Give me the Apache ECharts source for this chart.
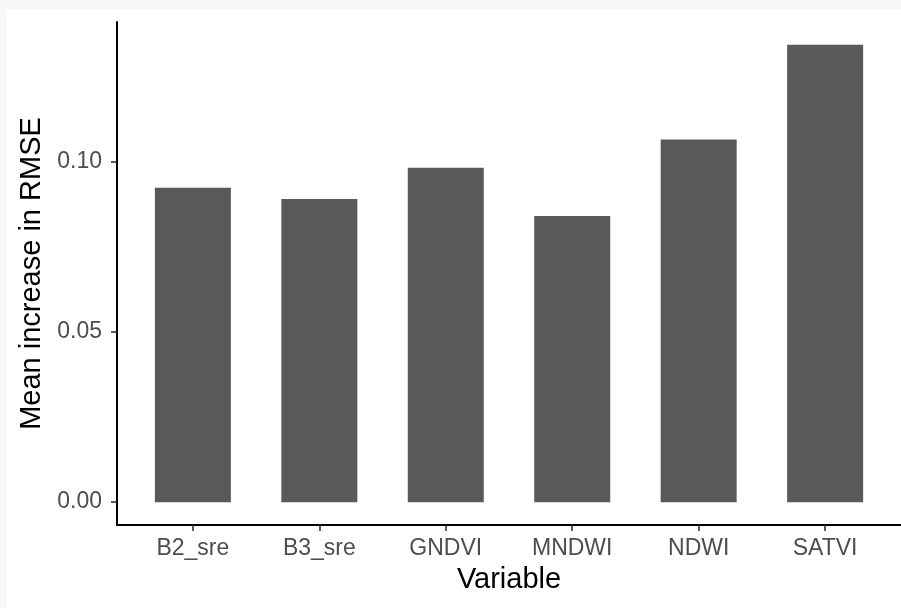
<!DOCTYPE html>
<html>
<head>
<meta charset="utf-8">
<script src="https://cdn.jsdelivr.net/npm/echarts@6/dist/echarts.min.js"></script>
<style>
  html, body { margin: 0; padding: 0; background: #f7f7f7; }
  #chart { position: absolute; left: 7px; top: 9px; width: 894px; height: 599px; background: #ffffff; }
</style>
</head>
<body>
<div id="chart"></div>
<script>
// Variable importance (mean increase in RMSE) per predictor
const categories = ['B2_sre', 'B3_sre', 'GNDVI', 'MNDWI', 'NDWI', 'SATVI'];
const importance = [0.0923, 0.0890, 0.0981, 0.0840, 0.1064, 0.1342];
const yTicks = [0, 0.05, 0.10];

// Bars sit at positions 1..n on a numeric axis so the axis can carry
// ggplot-style padding (0.6 of a slot on either side).
const positions = categories.map((_, i) => i + 1);
const barData = positions.map((p, i) => [p, importance[i]]);

const yMax = Math.max(...importance);
const yPad = yMax * 0.05;

const chart = echarts.init(document.getElementById('chart'));
const labelFont = { fontFamily: 'Liberation Sans, Arial, sans-serif', fontSize: 23, color: '#4d4d4d' };
const titleFont = { fontFamily: 'Liberation Sans, Arial, sans-serif', fontSize: 29, color: '#000000' };

chart.setOption({
  animation: false,
  backgroundColor: '#ffffff',
  grid: { left: 110, right: 0, top: 13, bottom: 83, containLabel: false },
  xAxis: {
    type: 'value',
    min: 0.4,
    max: categories.length + 0.6,
    name: 'Variable',
    nameLocation: 'middle',
    nameGap: 40,
    nameTextStyle: titleFont,
    axisLine: { show: true, onZero: false, lineStyle: { color: '#000000', width: 2 } },
    axisTick: { show: true, length: 6, customValues: positions, lineStyle: { color: '#333333', width: 1.6 } },
    axisLabel: {
      ...labelFont,
      margin: 12,
      customValues: positions,
      formatter: v => categories[Math.round(v) - 1] || ''
    },
    splitLine: { show: false }
  },
  yAxis: {
    type: 'value',
    min: -yPad,
    max: yMax + yPad,
    name: 'Mean increase in RMSE',
    nameLocation: 'middle',
    nameGap: 68,
    nameRotate: 90,
    nameTextStyle: titleFont,
    axisLine: { show: true, onZero: false, lineStyle: { color: '#000000', width: 2 } },
    axisTick: { show: true, length: 6, customValues: yTicks, lineStyle: { color: '#333333', width: 1.6 } },
    axisLabel: {
      ...labelFont,
      margin: 15,
      customValues: yTicks,
      formatter: v => v.toFixed(2)
    },
    splitLine: { show: false }
  },
  series: [{
    type: 'bar',
    data: barData,
    barWidth: 76,
    itemStyle: { color: '#595959' }
  }]
});
</script>
</body>
</html>
